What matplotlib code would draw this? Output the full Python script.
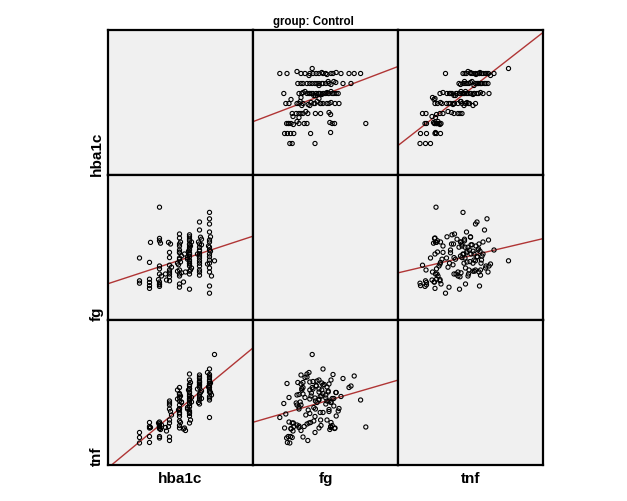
import numpy as np
import matplotlib.pyplot as plt

plt.rcParams['font.family'] = ['Liberation Sans', 'DejaVu Sans']

names = ['hba1c', 'fg', 'tnf']

# one entry per subject, same order in the three lists
hba1c = [4.50, 4.50, 4.50,
         4.60, 4.60, 4.60, 4.60, 4.60, 4.61,
         4.70, 4.70, 4.70, 4.71, 4.70, 4.70, 4.69, 4.70, 4.70, 4.70, 4.72, 4.70, 4.70,
         4.76, 4.77,
         4.80, 4.80, 4.81, 4.80, 4.80, 4.79, 4.80, 4.80, 4.82, 4.80, 4.80,
         4.90, 4.88, 4.90, 4.91, 4.90, 4.90, 4.92, 4.90, 4.90, 4.89, 4.90, 4.90, 4.90, 4.91, 4.90, 4.90, 4.88, 4.90, 4.92, 4.90, 4.90,
         4.96, 4.95, 4.94,
         5.00, 5.00, 5.01, 5.00, 5.00, 4.99, 5.00, 5.00, 5.02, 5.00, 5.00, 5.00, 5.00, 4.98, 5.00, 5.00, 5.00, 5.01, 5.00, 5.00, 5.00, 5.02, 5.00, 5.00, 4.98, 5.00, 5.00, 5.00,
         5.10, 5.10, 5.10, 5.11, 5.10, 5.10, 5.09, 5.10, 5.10, 5.12, 5.10, 5.10, 5.10, 5.08, 5.10, 5.10, 5.10, 5.10, 5.12, 5.10,
         5.20, 5.20, 5.20, 5.20, 5.21, 5.20, 5.20, 5.18, 5.20, 5.20, 5.20, 5.22, 5.20, 5.20, 5.20, 5.19, 5.20, 5.20, 5.20, 5.20, 5.21,
         5.25]

fg = [4.12, 4.18, 4.75,
      4.06, 4.14, 3.99, 4.22, 4.64, 5.14,
      6.02, 5.24, 5.18, 5.12, 4.55, 4.48, 4.21, 4.35, 4.08, 4.04, 4.30, 4.15, 4.10,
      4.35, 4.20,
      4.76, 4.40, 5.10, 4.89, 4.18, 5.14, 4.45, 4.57, 4.52, 4.35, 4.28,
      4.45, 4.42, 4.95, 4.65, 4.10, 5.05, 4.80, 4.30, 5.35, 4.58, 4.88, 4.02, 4.72, 5.15, 4.90, 5.25, 4.62, 4.35, 4.38, 4.75, 5.10,
      4.40, 4.85, 4.15,
      4.55, 4.85, 4.45, 4.78, 5.33, 4.92, 4.66, 5.02, 4.50, 4.84, 5.10, 3.97, 5.22, 4.72, 4.42, 4.95, 5.28, 5.05, 4.60, 4.70, 4.88, 5.15, 4.98, 4.35, 4.76, 5.08, 4.62, 5.18,
      5.65, 5.45, 4.40, 5.27, 4.80, 4.32, 5.15, 4.68, 4.92, 5.08, 5.02, 4.75, 4.85, 4.85, 4.62, 5.10, 4.45, 4.55, 5.22, 4.95,
      5.89, 5.73, 5.60, 4.95, 5.28, 5.15, 5.02, 4.60, 4.78, 4.62, 4.50, 4.30, 4.05, 3.87, 4.85, 5.05, 4.70, 4.40, 5.20, 5.40, 4.92,
      4.68]

tnf = [4.0, 5.1, 6.1,
       4.1, 5.3, 7.0, 7.3, 8.1, 7.1,
       7.2, 6.9, 7.5, 6.7, 7.8, 7.3, 8.0, 7.4, 5.3, 5.0, 7.6, 6.9, 8.2,
       7.1, 6.4,
       12.4, 11.6, 10.3, 8.6, 8.0, 7.3, 5.2, 4.5, 9.6, 10.8, 12.0,
       15.1, 14.6, 13.9, 13.4, 13.1, 12.4, 12.1, 11.6, 10.9, 10.6, 10.1, 9.8, 8.4, 8.1, 7.5, 7.0, 12.8, 13.7, 12.2, 9.3, 10.7,
       6.5, 7.0, 6.8,
       17.8, 16.6, 16.1, 15.4, 10.4, 14.6, 14.0, 13.6, 13.1, 12.7, 12.4, 11.9, 11.4, 11.1, 14.9, 10.1, 9.4, 8.6, 8.0, 14.8, 13.3, 12.2, 15.7, 11.2, 10.8, 14.2, 9.9, 12.9,
       15.4, 16.9, 17.6, 14.1, 16.4, 16.1, 12.1, 15.1, 13.4, 14.4, 11.8, 13.0, 12.6, 14.8, 16.2, 15.8, 13.8, 17.2, 12.9, 15.6,
       12.6, 17.4, 15.1, 18.8, 14.1, 16.6, 13.0, 18.1, 15.5, 14.6, 17.1, 13.6, 15.9, 9.1, 14.2, 15.2, 16.3, 15.8, 17.7, 13.3, 16.0,
       21.7]

data = {'hba1c': np.array(hba1c), 'fg': np.array(fg), 'tnf': np.array(tnf)}
lims = {'hba1c': (4.185, 5.635), 'fg': (3.2, 6.825), 'tnf': (-0.4, 28.6)}

W, H = 627, 502
fig = plt.figure(figsize=(W / 100, H / 100), dpi=100)

x0, y0, cell = 108, 31, 145  # pixel layout of the grid
for i, yn in enumerate(names):
    for j, xn in enumerate(names):
        left = (x0 + j * cell) / W
        bottom = 1 - (y0 + (i + 1) * cell) / H
        ax = fig.add_axes([left, bottom, cell / W, cell / H])
        ax.set_facecolor('#f0f0f0')
        ax.set_xlim(lims[xn]); ax.set_ylim(lims[yn])
        ax.set_xticks([]); ax.set_yticks([])
        for s in ax.spines.values():
            s.set_linewidth(1.6)
            s.set_color('black')
        if i == j:
            continue
        xv, yv = data[xn], data[yn]
        ax.scatter(xv, yv, s=9, facecolors='none', edgecolors='black', linewidths=0.8, zorder=3)
        b, a = np.polyfit(xv, yv, 1)
        xx = np.array(lims[xn])
        ax.plot(xx, a + b * xx, color='#b03535', lw=1.0, zorder=2)

for k, n in enumerate(names):
    fig.text((x0 + k * cell + cell / 2) / W, 1 - 479 / H, n, ha='center', va='center',
             fontsize=11, fontweight='bold')
    fig.text(97 / W, 1 - (y0 + (k + 1) * cell) / H, n, ha='center', va='bottom',
             rotation=90, fontsize=11, fontweight='bold')

fig.text(0.5, 1 - 22 / H, 'group: Control', ha='center', va='center', fontsize=8.3, fontweight='bold')

fig.savefig('out.png', dpi=100)
